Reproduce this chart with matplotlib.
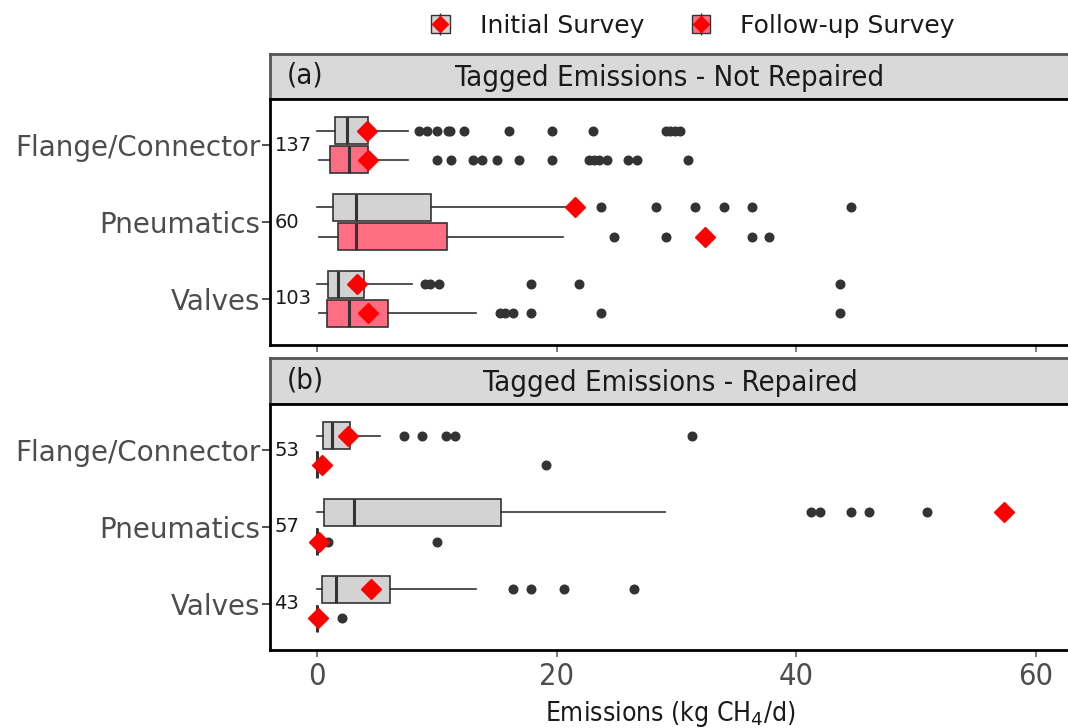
import matplotlib
matplotlib.use("Agg")
import matplotlib.pyplot as plt
from matplotlib import font_manager
from matplotlib.patches import Patch
from matplotlib.lines import Line2D
from matplotlib.legend_handler import HandlerTuple

# ---------------------------------------------------------------
# data (kg CH4/d)
# ---------------------------------------------------------------
categories = ["Flange/Connector", "Pneumatics", "Valves"]
panel_titles = ["Tagged Emissions - Not Repaired", "Tagged Emissions - Repaired"]
panel_tags = ["(a)", "(b)"]
counts_a = [137, 60, 103]
counts_b = [53, 57, 43]

# box stats: whislo, q1, med, q3, whishi, mean
init_a = [[0.03, 1.5, 2.53, 4.23, 7.57, 4.15],
          [0.03, 1.36, 3.23, 9.49, 21.4, 21.5],
          [0.03, 0.95, 1.73, 3.95, 7.9, 3.31]]
init_a_out = [[8.5, 9.2, 10.0, 10.9, 11.1, 12.3, 16.0, 19.6, 23.0, 29.1, 29.5, 29.9, 30.3],
              [23.7, 28.3, 31.55, 33.97, 36.3, 44.6],
              [9.0, 9.4, 10.2, 17.9, 21.9, 43.66]]
follow_a = [[0.2, 1.08, 2.7, 4.23, 7.57, 4.23],
            [0.2, 1.78, 3.23, 10.83, 20.56, 32.4],
            [0.2, 0.81, 2.7, 5.95, 13.27, 4.28]]
follow_a_out = [[10.0, 11.2, 13.05, 13.75, 15.0, 16.9, 19.6, 22.7, 23.1, 23.5, 24.2, 26.0, 26.7, 31.0],
                [24.8, 29.1, 36.3, 37.7],
                [15.3, 15.7, 16.4, 17.9, 23.7, 43.66]]

init_b = [[0.03, 0.53, 1.23, 2.75, 5.3, 2.62],
          [0.03, 0.58, 3.1, 15.4, 29.05, 57.35],
          [0.03, 0.45, 1.59, 6.09, 13.27, 4.5]]
init_b_out = [[7.26, 8.8, 10.77, 11.5, 31.3],
              [41.2, 42.0, 44.6, 46.1, 50.9],
              [16.4, 17.9, 20.6, 26.5]]
follow_b = [[0.0, 0.0, 0.0, 0.0, 0.0, 0.39],
            [0.0, 0.0, 0.0, 0.0, 0.0, 0.2],
            [0.0, 0.0, 0.0, 0.0, 0.0, 0.05]]
follow_b_out = [[19.1],
                [0.95, 10.05],
                [2.06]]

x_ticks = [0, 20, 40, 60]

# ---------------------------------------------------------------
# style
# ---------------------------------------------------------------
GRAY_BOX = "#D3D3D3"
PINK_BOX = "#FF6E82"
LINE = "#333333"
TXT = "#4D4D4D"

names = {f.name for f in font_manager.fontManager.ttflist}
if "Liberation Sans Narrow" in names:
    narrow = dict(family="Liberation Sans Narrow")
else:
    narrow = dict(family="DejaVu Sans", stretch="condensed")

W, H = 1068, 728
fig = plt.figure(figsize=(W / 100, H / 100), dpi=100)


def px_axes(x0, y0, x1, y1):
    # pixel box (top-left origin) -> figure axes
    return fig.add_axes([x0 / W, 1 - y1 / H, (x1 - x0) / W, (y1 - y0) / H])


def make_stats(rows, outs):
    res = []
    for r, o in zip(rows, outs):
        res.append(dict(whislo=r[0], q1=r[1], med=r[2], q3=r[3], whishi=r[4],
                        mean=r[5], fliers=o))
    return res


def draw_panel(ax, init, init_out, follow, follow_out, counts):
    pos = [1, 2, 3]
    common = dict(orientation="horizontal", widths=0.35, patch_artist=True,
                  showcaps=False, showmeans=True,
                  whiskerprops=dict(color=LINE, lw=1.2),
                  medianprops=dict(color=LINE, lw=2.2),
                  flierprops=dict(marker="o", mfc=LINE, mec=LINE, ms=6.2),
                  meanprops=dict(marker="D", mfc="red", mec="red", ms=10))
    b1 = ax.bxp(make_stats(init, init_out), positions=[p - 0.19 for p in pos],
                boxprops=dict(facecolor=GRAY_BOX, edgecolor=LINE, lw=1.2), **common)
    b2 = ax.bxp(make_stats(follow, follow_out), positions=[p + 0.19 for p in pos],
                boxprops=dict(facecolor=PINK_BOX, edgecolor=LINE, lw=1.2), **common)
    for m in b1["means"] + b2["means"]:
        m.set_zorder(5)
    ax.set_ylim(3.6, 0.4)
    ax.set_xlim(-3.92, 62.85)
    ax.set_yticks(pos)
    ax.set_yticklabels(categories, fontsize=20, color=TXT)
    ax.set_xticks(x_ticks)
    ax.tick_params(axis="y", length=6, width=1.2, color=LINE, pad=1)
    ax.tick_params(axis="x", length=5, width=1.2, color="#666666")
    for s in ax.spines.values():
        s.set_color("black")
        s.set_linewidth(2)
    for p, n in zip(pos, counts):
        ax.text(-3.55, p, str(n), fontsize=14, color="#1A1A1A", va="center", ha="left")


def draw_strip(x0, y0, x1, y1, title, tag):
    st = px_axes(x0, y0, x1, y1)
    st.set_facecolor("#D9D9D9")
    st.set_xticks([])
    st.set_yticks([])
    for s in st.spines.values():
        s.set_color("#555555")
        s.set_linewidth(2)
    st.text(0.5, 0.46, title, ha="center", va="center", fontsize=21, color="#1A1A1A",
            transform=st.transAxes, **narrow)
    st.text(17 / (x1 - x0), 0.52, tag, ha="left", va="center", fontsize=21, color="#1A1A1A",
            transform=st.transAxes, **narrow)


# panel (a)
draw_strip(270, 54, 1070, 99, panel_titles[0], panel_tags[0])
ax1 = px_axes(270, 99, 1070, 345)
draw_panel(ax1, init_a, init_a_out, follow_a, follow_a_out, counts_a)
ax1.tick_params(axis="x", labelbottom=False)

# panel (b)
draw_strip(270, 358, 1070, 404, panel_titles[1], panel_tags[1])
ax2 = px_axes(270, 404, 1070, 650)
draw_panel(ax2, init_b, init_b_out, follow_b, follow_b_out, counts_b)
for lab in ax2.get_xticklabels():
    lab.set_fontsize(22)
    lab.set_color(TXT)
    if "stretch" in narrow:
        lab.set_fontstretch("condensed")
    lab.set_family(narrow["family"])
ax2.set_xlabel("Emissions (kg CH$_4$/d)", fontsize=19, color="#1A1A1A", labelpad=6, **narrow)

# legend
def key(color):
    return (Patch(facecolor=color, edgecolor=LINE, lw=1),
            Line2D([], [], marker="|", color=LINE, ls="none", ms=16, mew=1),
            Line2D([], [], marker="D", color="red", ls="none", ms=8))

fig.legend([key(GRAY_BOX), key(PINK_BOX)], ["Initial Survey", "Follow-up Survey"],
           handler_map={tuple: HandlerTuple(ndivide=1)},
           loc="center", bbox_to_anchor=(693 / W, 1 - 26 / H), ncol=2, frameon=False,
           fontsize=18, handlelength=0.75, handleheight=0.75, columnspacing=1.9,
           handletextpad=1.2, labelcolor="#1A1A1A")

fig.savefig("out.png", dpi=100)
